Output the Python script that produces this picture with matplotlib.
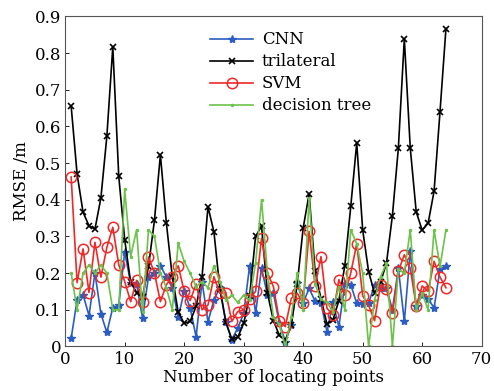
import matplotlib
matplotlib.use("Agg")
import matplotlib.pyplot as plt
import numpy as np

plt.rcParams['font.family'] = ['DejaVu Serif']
plt.rcParams['mathtext.fontset'] = 'dejavuserif'

points = list(range(1, 65))

cnn = [0.022, 0.127, 0.141, 0.084, 0.200, 0.089, 0.038, 0.106, 0.112, 0.257,
       0.173, 0.170, 0.077, 0.190, 0.200, 0.220, 0.190, 0.160, 0.080, 0.150,
       0.105, 0.026, 0.177, 0.067, 0.127, 0.160, 0.067, 0.018, 0.050, 0.090,
       0.220, 0.090, 0.213, 0.140, 0.145, 0.063, 0.013, 0.059, 0.173, 0.118,
       0.159, 0.123, 0.118, 0.040, 0.120, 0.054, 0.170, 0.168, 0.118, 0.116,
       0.118, 0.168, 0.160, 0.160, 0.100, 0.213, 0.068, 0.260, 0.110, 0.140,
       0.130, 0.105, 0.210, 0.220]

trilateral = [0.655, 0.470, 0.366, 0.329, 0.320, 0.405, 0.573, 0.817, 0.464, 0.291,
              0.175, 0.147, 0.136, 0.218, 0.344, 0.523, 0.337, 0.190, 0.093, 0.063,
              0.068, 0.109, 0.190, 0.381, 0.312, 0.157, 0.066, 0.020, 0.025, 0.063,
              0.138, 0.300, 0.328, 0.145, 0.070, 0.030, 0.018, 0.058, 0.170, 0.323,
              0.416, 0.205, 0.130, 0.061, 0.072, 0.125, 0.220, 0.382, 0.555, 0.318,
              0.204, 0.145, 0.175, 0.227, 0.357, 0.541, 0.839, 0.541, 0.367, 0.317,
              0.336, 0.423, 0.640, 0.867]

svm = [0.462, 0.174, 0.266, 0.147, 0.284, 0.189, 0.270, 0.325, 0.223, 0.177,
       0.122, 0.180, 0.120, 0.244, 0.200, 0.122, 0.168, 0.190, 0.220, 0.150,
       0.125, 0.170, 0.100, 0.113, 0.190, 0.145, 0.147, 0.068, 0.095, 0.099,
       0.130, 0.150, 0.295, 0.200, 0.163, 0.070, 0.054, 0.131, 0.145, 0.118,
       0.314, 0.165, 0.245, 0.104, 0.086, 0.182, 0.140, 0.200, 0.280, 0.138,
       0.112, 0.070, 0.168, 0.157, 0.091, 0.205, 0.250, 0.213, 0.110, 0.165,
       0.150, 0.232, 0.189, 0.160]

dtree = [0.200, 0.100, 0.200, 0.222, 0.200, 0.222, 0.200, 0.100, 0.100, 0.428,
         0.245, 0.318, 0.095, 0.318, 0.300, 0.200, 0.160, 0.100, 0.282, 0.232,
         0.200, 0.163, 0.177, 0.160, 0.220, 0.177, 0.127, 0.140, 0.120, 0.140,
         0.127, 0.227, 0.400, 0.200, 0.080, 0.060, 0.000, 0.080, 0.200, 0.100,
         0.405, 0.170, 0.128, 0.120, 0.095, 0.163, 0.100, 0.318, 0.280, 0.200,
         0.000, 0.127, 0.190, 0.227, 0.000, 0.210, 0.200, 0.318, 0.100, 0.145,
         0.100, 0.318, 0.218, 0.318]

fig = plt.figure(figsize=(4.94, 3.91), dpi=100)
ax = fig.add_axes([0.132, 0.114, 0.843, 0.844])

ax.plot(points, cnn, color='#2b5cc0', marker='*', markersize=6, linewidth=1.2,
        label='CNN')
ax.plot(points, trilateral, color='black', marker='x', markersize=4.5,
        markeredgewidth=1.2, linewidth=1.2, label='trilateral')
ax.plot(points, svm, color='#f02828', marker='o', markersize=7.5,
        markerfacecolor='none', markeredgewidth=1.1, linewidth=1.2, label='SVM')
ax.plot(points, dtree, color='#6cc24a', marker='.', markersize=3, linewidth=1.2,
        label='decision tree')

ax.set_xlim(0, 70)
ax.set_ylim(0, 0.9)
ax.set_xticks(np.arange(0, 71, 10))
ax.set_yticks(np.arange(0, 0.91, 0.1))
ax.set_yticklabels(['0', '0.1', '0.2', '0.3', '0.4', '0.5', '0.6', '0.7', '0.8', '0.9'])
ax.tick_params(direction='in', labelsize=12, length=3, width=0.6, pad=3)
for s in ax.spines.values():
    s.set_color('#555555')
    s.set_linewidth(0.8)

ax.set_xlabel('Number of locating points', fontsize=12, labelpad=1)
ax.set_ylabel('RMSE /m', fontsize=12, labelpad=3)

leg = ax.legend(loc='upper left', bbox_to_anchor=(0.32, 0.99), frameon=False,
                fontsize=12, handlelength=2.6, handletextpad=0.5,
                labelspacing=0.3, borderaxespad=0.3)

fig.savefig('out.png', dpi=100)
